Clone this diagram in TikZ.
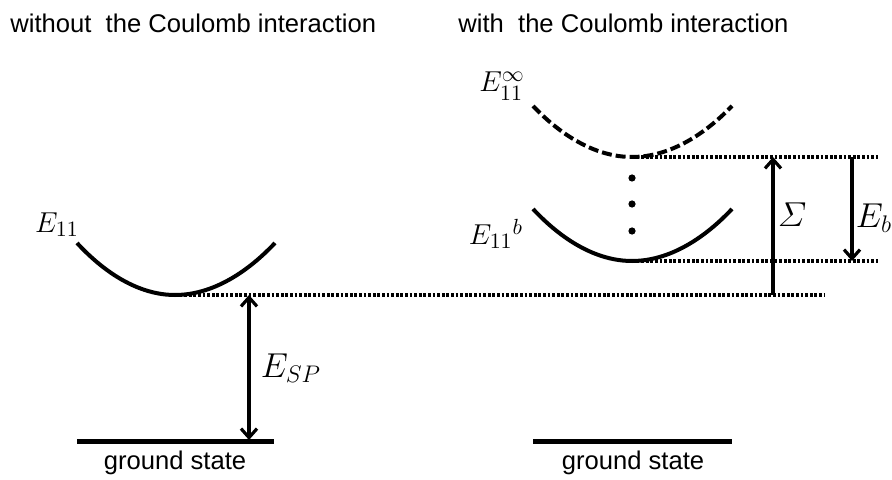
\documentclass[tikz,border=0pt]{standalone}
\usepackage{amsmath}
\usepackage{fontspec}
\setmainfont{Liberation Sans}
\usetikzlibrary{arrows.meta}
\tikzset{
  level/.style={line width=2.5pt},
  band/.style={line width=2pt},
  guide/.style={line width=1.6pt,dash pattern=on 1.4pt off 0.9pt},
  gap/.style={line width=1.6pt},
  heading/.style={font=\fontsize{12.8}{15}\selectfont,anchor=base west,inner sep=0pt},
  gslabel/.style={font=\fontsize{12.8}{15}\selectfont,inner sep=0pt},
  elabel/.style={font=\fontsize{15}{17}\selectfont,inner sep=0pt},
  biglabel/.style={font=\fontsize{18}{20}\selectfont,inner sep=0pt},
}
\begin{document}
\begin{tikzpicture}[x=0.5pt,y=-0.5pt,>={Straight Barb[length=4.5pt,width=8pt]}]
\useasboundingbox (0,0) rectangle (892,480);
% headings
\node[heading] (left head) at (10,33) {without\ \ the Coulomb interaction};
\node[heading] (right head) at (458,33) {with\ \ the Coulomb interaction};

% without the interaction
\coordinate (min free) at (175,295);
\coordinate (gs free a) at (77,441);
\coordinate (gs free b) at (274,441);
\coordinate (sp top) at (249,295);
\coordinate (sp bot) at (249,440);
\coordinate (free end) at (825,295);
\draw[band] (77,243) parabola bend (min free) (275,243);
\draw[guide] (min free) -- (free end);
\draw[level] (gs free a) -- (gs free b);
\draw[gap,<->] (sp top) -- (sp bot);
\node[elabel] (e11) at (57,225) {$E_{11}$};
\node[biglabel] (esp) at (291,368) {$E_{SP}$};
\node[gslabel] (gs free) at (175,463) {ground state};

% with the interaction
\coordinate (min cont) at (632,157);
\coordinate (min bound) at (632,261);
\coordinate (cont end) at (878,157);
\coordinate (bound end) at (878,261);
\coordinate (sig top) at (773,157);
\coordinate (sig bot) at (773,295);
\coordinate (eb top) at (852,157);
\coordinate (eb bot) at (852,261);
\coordinate (gs int a) at (533,441);
\coordinate (gs int b) at (732,441);
\draw[band,dash pattern=on 5pt off 2pt] (533,106) parabola bend (min cont) (732,106);
\draw[band] (533,209) parabola bend (min bound) (732,209);
\draw[guide] (min cont) -- (cont end);
\draw[guide] (min bound) -- (bound end);
\foreach \y in {178,204,231}
  \fill (632,\y) circle (1.8pt);
\draw[gap,->] (sig bot) -- (sig top);
\draw[gap,->] (eb top) -- (eb bot);
\draw[level] (gs int a) -- (gs int b);
\node[elabel] (e11inf) at (502,86) {$E_{11}^{\infty}$};
\node[elabel] (e11b) at (496,234) {$E_{11}{}^{b}$};
\node[font=\fontsize{16}{18}\selectfont,inner sep=0pt] (sigma) at (792,215) {$\varSigma$};
\node[font=\fontsize{17}{19}\selectfont,inner sep=0pt] (eb) at (874,218) {$E_b$};
\node[gslabel] (gs int) at (633,463) {ground state};
\end{tikzpicture}
\end{document}
